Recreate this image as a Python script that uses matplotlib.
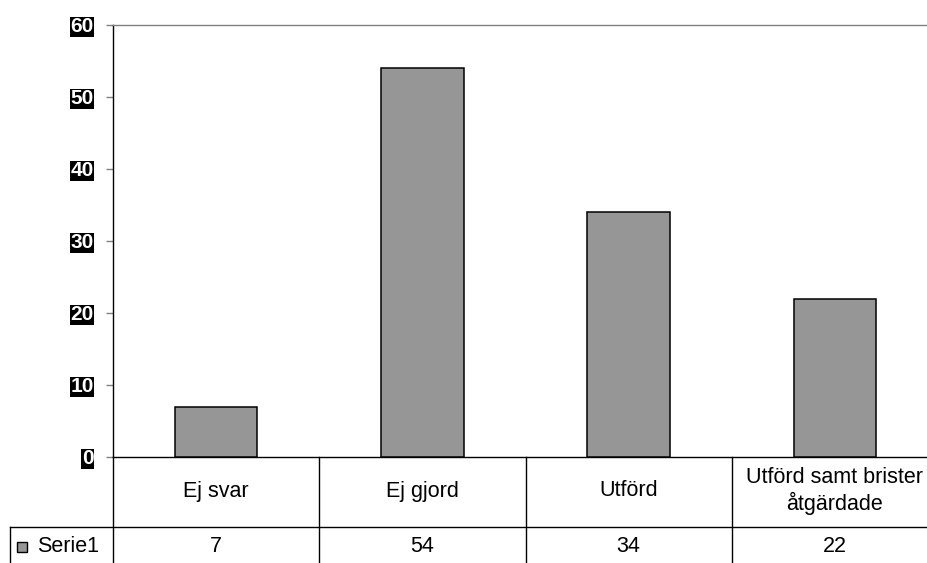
import matplotlib
matplotlib.use("Agg")
from matplotlib import pyplot as plt
from matplotlib.patches import Rectangle

categories = ["Ej svar", "Ej gjord", "Utförd", "Utförd samt brister\nåtgärdade"]
values = [7, 54, 34, 22]
series_name = "Serie1"
yticks = [0, 10, 20, 30, 40, 50, 60]

plt.rcParams["font.family"] = ["Liberation Sans", "DejaVu Sans"]

W, H = 927, 563
fig = plt.figure(figsize=(W / 100, H / 100), dpi=100)
fig.patch.set_facecolor("white")

# plot area in pixels: left 113, top 25, bottom 457, column width ~206
ax = fig.add_axes([113 / W, (H - 457) / H, (938 - 113) / W, (457 - 25) / H])
x = list(range(len(categories)))
ax.bar(x, values, width=0.40, color="#969696", edgecolor="black", linewidth=1.1, zorder=3)

ax.set_xlim(-0.5, len(categories) - 0.5)
ax.set_ylim(0, 60)
ax.set_xticks([])
ax.set_yticks(yticks)
ax.set_yticklabels([str(t) for t in yticks], fontsize=15, fontweight="bold", color="white")
for lab in ax.get_yticklabels():
    lab.set_bbox(dict(facecolor="black", edgecolor="none", pad=0.5))
ax.tick_params(axis="y", length=5, width=1, color="#808080", pad=9)
ax.yaxis.get_major_ticks()[-1].tick1line.set_color("black")

ax.spines["left"].set_color("black")
ax.spines["bottom"].set_color("black")
ax.spines["top"].set_color("#808080")
ax.spines["right"].set_color("#808080")
for s in ax.spines.values():
    s.set_linewidth(1)

# data table below the plot
trans = ax.get_xaxis_transform()
row1 = -(527 - 457) / 432
bottom = -0.35
line_kw = dict(color="black", linewidth=1, transform=trans, clip_on=False)
ax.plot([-1.0, 3.5], [row1, row1], **line_kw)
for xb in [-0.5, 0.5, 1.5, 2.5, 3.5]:
    ax.plot([xb, xb], [0, bottom], **line_kw)
ax.plot([-1.0, -1.0], [row1, bottom], **line_kw)

for xi, cat, val in zip(x, categories, values):
    ax.text(xi, -(491 - 457) / 432, cat, transform=trans, ha="center", va="center",
            fontsize=15.5, linespacing=1.25, clip_on=False)
    ax.text(xi, -(547 - 457) / 432, str(val), transform=trans, ha="center", va="center",
            fontsize=15.5, clip_on=False)

# legend key in the table header cell
fig.add_artist(Rectangle((17 / W, (H - 552) / H), 10 / W, 10 / H, transform=fig.transFigure,
                         facecolor="#969696", edgecolor="black", linewidth=1))
fig.text(37 / W, (H - 547) / H, series_name, ha="left", va="center", fontsize=15.5)

fig.savefig("out.png", dpi=100)
